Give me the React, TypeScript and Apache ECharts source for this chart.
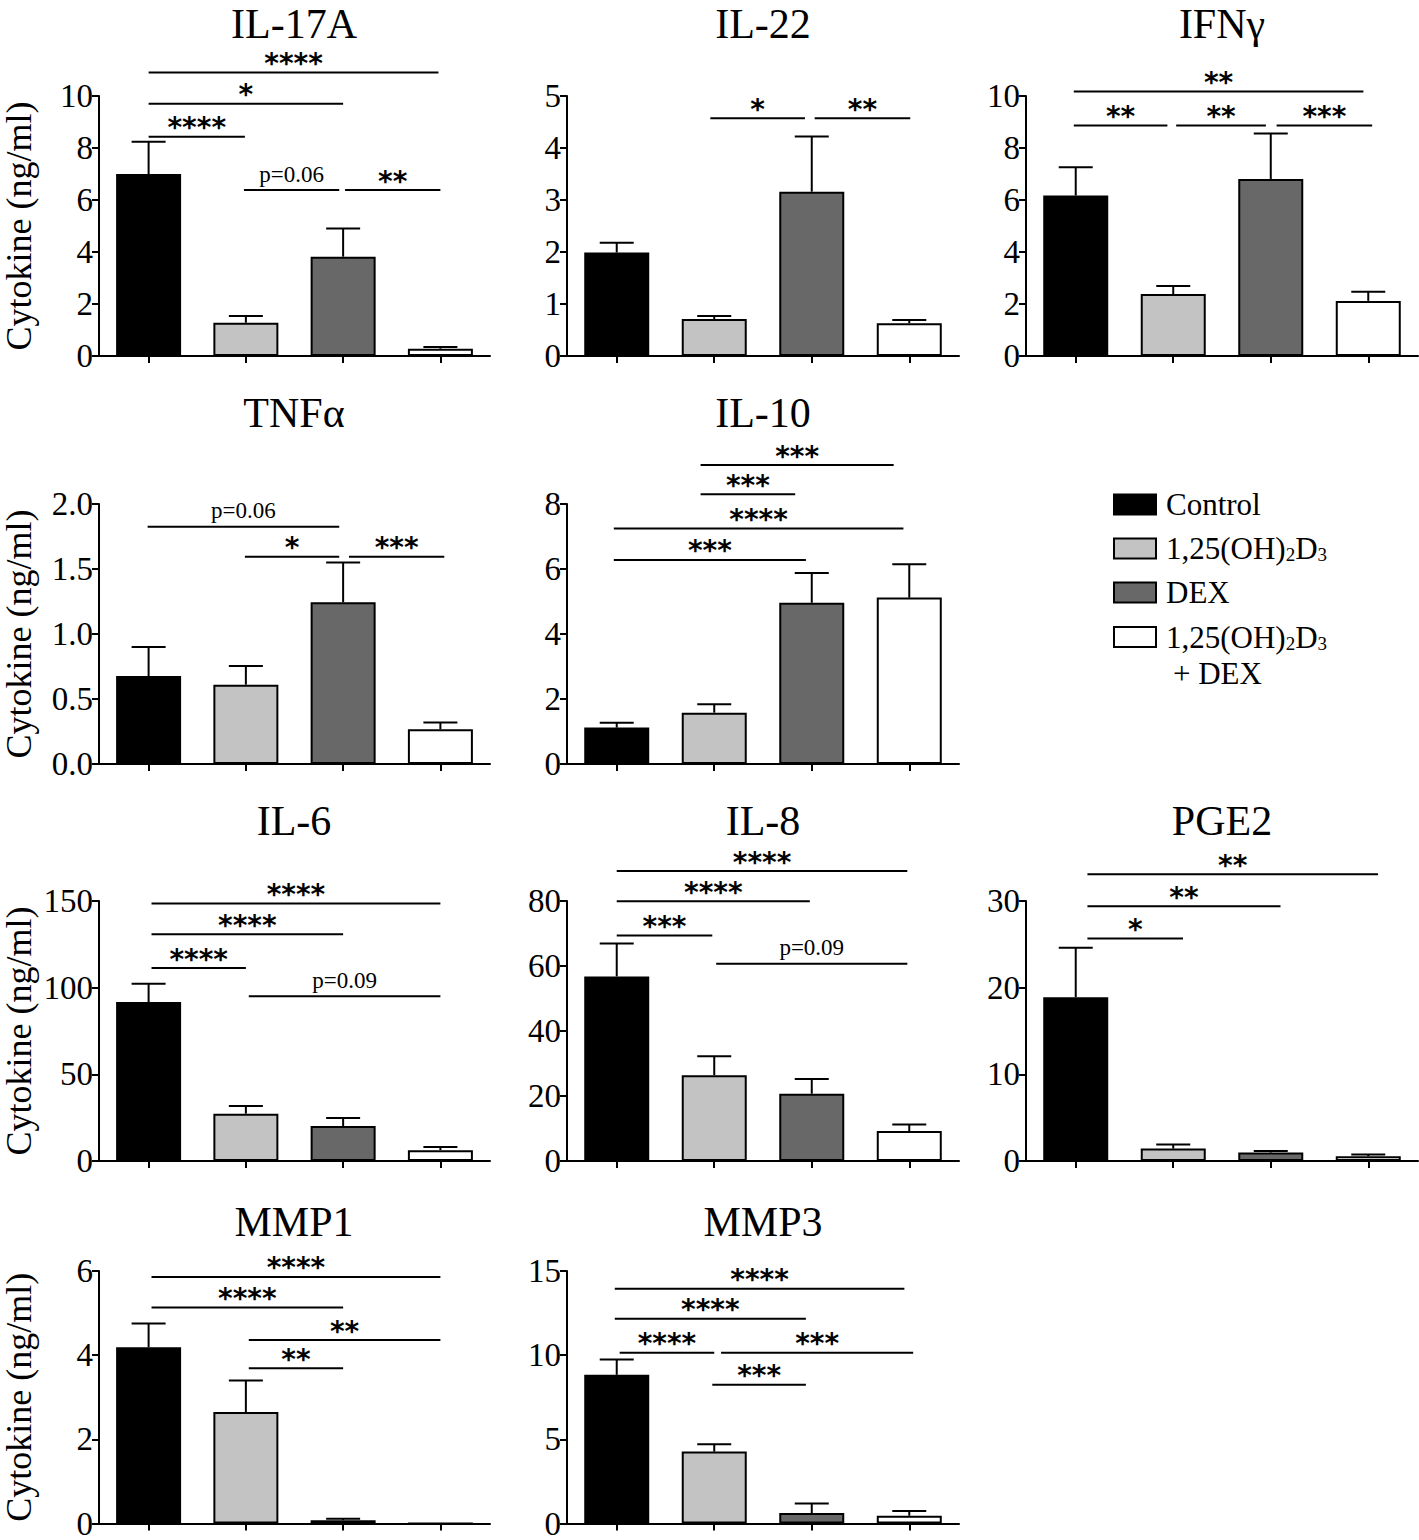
import React, { useEffect, useRef } from 'react';
import * as echarts from 'echarts';

// ---------- data ----------
const groupNames = ['Control', '1,25(OH)2D3', 'DEX', '1,25(OH)2D3 + DEX'];
const groupColors = ['#000000', '#c3c3c3', '#686868', '#ffffff'];

const il17aMean = [7.0, 1.28, 3.82, 0.28];
const il17aSem = [1.24, 0.26, 1.08, 0.07];
const il17aSig: [number, number, number, string][] = [
  [0, 2.98, 10.9, '****'], [0, 2, 9.7, '*'], [0, 0.99, 8.43, '****'],
  [0.98, 1.96, 6.38, 'p=0.06'], [2.02, 3.0, 6.38, '**'],
];

const il22Mean = [1.99, 0.71, 3.16, 0.63];
const il22Sem = [0.19, 0.06, 1.06, 0.06];
const il22Sig: [number, number, number, string][] = [
  [0.96, 1.93, 4.57, '*'], [2.03, 3.01, 4.57, '**'],
];

const ifngMean = [6.17, 2.38, 6.81, 2.12];
const ifngSem = [1.09, 0.31, 1.75, 0.35];
const ifngSig: [number, number, number, string][] = [
  [-0.02, 2.95, 10.17, '**'], [-0.02, 0.94, 8.87, '**'],
  [1.03, 1.95, 8.87, '**'], [2.06, 3.04, 8.87, '***'],
];

const tnfaMean = [0.677, 0.61, 1.244, 0.267];
const tnfaSem = [0.223, 0.144, 0.306, 0.053];
const tnfaSig: [number, number, number, string][] = [
  [-0.01, 1.96, 1.825, 'p=0.06'], [0.99, 1.96, 1.595, '*'], [2.06, 3.04, 1.595, '***'],
];

const il10Mean = [1.12, 1.58, 4.96, 5.12];
const il10Sem = [0.15, 0.26, 0.92, 1.03];
const il10Sig: [number, number, number, string][] = [
  [0.86, 2.84, 9.2, '***'], [0.86, 1.83, 8.3, '***'],
  [-0.03, 2.94, 7.25, '****'], [-0.03, 1.94, 6.28, '***'],
];

const il6Mean = [91.7, 27.3, 20.2, 6.2];
const il6Sem = [10.6, 4.4, 4.6, 1.9];
const il6Sig: [number, number, number, string][] = [
  [0.03, 3.0, 148.5, '****'], [0.03, 2.0, 130.8, '****'],
  [0.03, 1.0, 111.3, '****'], [1.03, 3.0, 95, 'p=0.09'],
];

const il8Mean = [56.8, 26.4, 20.7, 9.2];
const il8Sem = [10.1, 5.8, 4.5, 2.0];
const il8Sig: [number, number, number, string][] = [
  [0, 2.98, 89.2, '****'], [0, 1.98, 79.9, '****'],
  [0, 0.98, 69.4, '***'], [1.02, 2.98, 60.7, 'p=0.09'],
];

const pge2Mean = [18.9, 1.43, 0.97, 0.54];
const pge2Sem = [5.7, 0.47, 0.18, 0.2];
const pge2Sig: [number, number, number, string][] = [
  [0.12, 3.1, 33.1, '**'], [0.12, 2.1, 29.4, '**'], [0.12, 1.1, 25.66, '*'],
];

const mmp1Mean = [4.19, 2.65, 0.08, 0];
const mmp1Sem = [0.56, 0.75, 0.03, 0];
const mmp1Sig: [number, number, number, string][] = [
  [0.03, 3.0, 5.86, '****'], [0.03, 2.0, 5.13, '****'],
  [1.03, 3.0, 4.36, '**'], [1.03, 2.0, 3.69, '**'],
];

const mmp3Mean = [8.83, 4.27, 0.62, 0.46];
const mmp3Sem = [0.92, 0.44, 0.57, 0.29];
const mmp3Sig: [number, number, number, string][] = [
  [-0.02, 2.95, 13.95, '****'], [-0.02, 1.94, 12.16, '****'],
  [0.03, 1.0, 10.14, '****'], [1.07, 3.04, 10.14, '***'], [0.98, 1.94, 8.25, '***'],
];

const panels = [
  { title: 'IL-17A', mean: il17aMean, sem: il17aSem, sig: il17aSig, max: 10, interval: 2, dec: 0, col: 0, row: 0 },
  { title: 'IL-22', mean: il22Mean, sem: il22Sem, sig: il22Sig, max: 5, interval: 1, dec: 0, col: 1, row: 0 },
  { title: 'IFNγ', mean: ifngMean, sem: ifngSem, sig: ifngSig, max: 10, interval: 2, dec: 0, col: 2, row: 0 },
  { title: 'TNFα', mean: tnfaMean, sem: tnfaSem, sig: tnfaSig, max: 2, interval: 0.5, dec: 1, col: 0, row: 1 },
  { title: 'IL-10', mean: il10Mean, sem: il10Sem, sig: il10Sig, max: 8, interval: 2, dec: 0, col: 1, row: 1 },
  { title: 'IL-6', mean: il6Mean, sem: il6Sem, sig: il6Sig, max: 150, interval: 50, dec: 0, col: 0, row: 2 },
  { title: 'IL-8', mean: il8Mean, sem: il8Sem, sig: il8Sig, max: 80, interval: 20, dec: 0, col: 1, row: 2 },
  { title: 'PGE2', mean: pge2Mean, sem: pge2Sem, sig: pge2Sig, max: 30, interval: 10, dec: 0, col: 2, row: 2 },
  { title: 'MMP1', mean: mmp1Mean, sem: mmp1Sem, sig: mmp1Sig, max: 6, interval: 2, dec: 0, col: 0, row: 3 },
  { title: 'MMP3', mean: mmp3Mean, sem: mmp3Sem, sig: mmp3Sig, max: 15, interval: 5, dec: 0, col: 1, row: 3 },
];

// ---------- layout ----------
const colLeft = [98, 567, 1026];
const rowTop = [96, 504, 901, 1271];
const rowTitleY = [23.5, 413, 821, 1222];
const gridW = 392;
const gridH = 260;
const SERIF = '"Liberation Serif", "Times New Roman", serif';
const STAR = '"DejaVu Sans", sans-serif';

function buildOption() {
  const grid: any[] = [];
  const xAxis: any[] = [];
  const yAxis: any[] = [];
  const series: any[] = [];
  const graphic: any[] = [];

  panels.forEach((p, i) => {
    const left = colLeft[p.col];
    const top = rowTop[p.row];
    grid.push({ left, top, width: gridW, height: gridH, containLabel: false });
    xAxis.push({
      type: 'value', gridIndex: i, min: -0.51, max: 3.51,
      axisLine: { show: true, onZero: false, lineStyle: { color: '#000', width: 2 } },
      axisTick: { show: true, length: 7, inside: false, lineStyle: { color: '#000', width: 2 }, customValues: [0, 1, 2, 3] },
      axisLabel: { show: false },
      splitLine: { show: false },
    });
    yAxis.push({
      type: 'value', gridIndex: i, min: 0, max: p.max, interval: p.interval,
      name: p.col === 0 ? 'Cytokine (ng/ml)' : '',
      nameLocation: 'middle', nameGap: 62,
      nameTextStyle: { fontFamily: SERIF, fontSize: 36, color: '#000' },
      axisLine: { show: true, onZero: false, lineStyle: { color: '#000', width: 2 } },
      axisTick: { show: true, length: 7, lineStyle: { color: '#000', width: 2 } },
      axisLabel: {
        color: '#000', fontFamily: SERIF, fontSize: 33, margin: 6,
        formatter: (v: number) => v.toFixed(p.dec),
      },
      splitLine: { show: false },
    });

    series.push({
      type: 'bar', xAxisIndex: i, yAxisIndex: i, barWidth: 65, silent: true, z: 2,
      data: p.mean.map((v, k) => ({
        value: [k, v],
        itemStyle: { color: groupColors[k], borderColor: '#000', borderWidth: 2 },
      })),
    });

    series.push({
      type: 'custom', xAxisIndex: i, yAxisIndex: i, clip: false, silent: true, z: 3,
      encode: { x: 0, y: [1, 2] },
      data: p.mean.map((v, k) => [k, v, v + p.sem[k]]),
      renderItem: (params: any, api: any) => {
        const x = api.value(0);
        const m = api.value(1);
        const t = api.value(2);
        if (t - m <= 0) return { type: 'group', children: [] };
        const p0 = api.coord([x, m]);
        const p1 = api.coord([x, t]);
        return {
          type: 'group',
          children: [
            { type: 'line', shape: { x1: p0[0], y1: p0[1], x2: p1[0], y2: p1[1] }, style: { stroke: '#000', lineWidth: 2 } },
            { type: 'line', shape: { x1: p1[0] - 17, y1: p1[1], x2: p1[0] + 17, y2: p1[1] }, style: { stroke: '#000', lineWidth: 2 } },
          ],
        };
      },
    });

    series.push({
      type: 'custom', xAxisIndex: i, yAxisIndex: i, clip: false, silent: true, z: 4,
      encode: { x: [0, 1], y: 2 },
      data: p.sig.map((s) => [s[0], s[1], s[2]]),
      renderItem: (params: any, api: any) => {
        const a = api.coord([api.value(0), api.value(2)]);
        const b = api.coord([api.value(1), api.value(2)]);
        const label = p.sig[params.dataIndex][3];
        const isP = label.charAt(0) === 'p';
        return {
          type: 'group',
          children: [
            { type: 'line', shape: { x1: a[0], y1: a[1], x2: b[0], y2: b[1] }, style: { stroke: '#000', lineWidth: 2 } },
            {
              type: 'text', x: (a[0] + b[0]) / 2, y: a[1] - (isP ? 16 : 9),
              style: {
                text: label, fill: '#000',
                fontSize: isP ? 23 : 28, fontFamily: isP ? SERIF : STAR, fontWeight: isP ? 'normal' : 'bold',
                lineHeight: isP ? 20 : 18,
                align: 'center', verticalAlign: 'middle', textAlign: 'center', textVerticalAlign: 'middle',
              },
            },
          ],
        };
      },
    });

    graphic.push({
      type: 'text', x: left + gridW / 2, y: rowTitleY[p.row],
      style: {
        text: p.title, fill: '#000', fontSize: 42, fontFamily: SERIF, lineHeight: 36,
        align: 'center', verticalAlign: 'middle', textAlign: 'center', textVerticalAlign: 'middle',
      },
    });
  });

  // legend (drawn as graphic)
  const legendY = [504.5, 548.5, 592.5, 637];
  const legendText = ['Control', '1,25(OH){s|2}D{s|3}', 'DEX', '1,25(OH){s|2}D{s|3}'];
  legendY.forEach((y, k) => {
    graphic.push({
      type: 'rect', shape: { x: 1114, y: y - 10, width: 42, height: 20 },
      style: { fill: groupColors[k], stroke: '#000', lineWidth: 2 },
    });
    graphic.push({
      type: 'text', x: 1166, y,
      style: {
        text: legendText[k], fill: '#000', fontSize: 31, fontFamily: SERIF,
        align: 'left', verticalAlign: 'middle', textAlign: 'left', textVerticalAlign: 'middle',
        rich: { s: { fontSize: 19, fontFamily: SERIF, fill: '#000', verticalAlign: 'bottom' } },
      },
    });
  });
  graphic.push({
    type: 'text', x: 1173, y: 673,
    style: {
      text: '+ DEX', fill: '#000', fontSize: 31, fontFamily: SERIF,
      align: 'left', verticalAlign: 'middle', textAlign: 'left', textVerticalAlign: 'middle',
    },
  });

  return {
    animation: false,
    backgroundColor: '#ffffff',
    textStyle: { fontFamily: SERIF },
    grid, xAxis, yAxis, series, graphic,
  };
}

export default function App() {
  const ref = useRef<HTMLDivElement>(null);
  useEffect(() => {
    document.body.style.margin = '0';
    if (!ref.current) return;
    const chart = echarts.init(ref.current, undefined, { renderer: 'svg' });
    chart.setOption(buildOption() as any);
    return () => chart.dispose();
  }, []);
  return (
    <div
      ref={ref}
      style={{ position: 'absolute', left: 0, top: 0, width: 1419, height: 1540, background: '#fff' }}
    />
  );
}
